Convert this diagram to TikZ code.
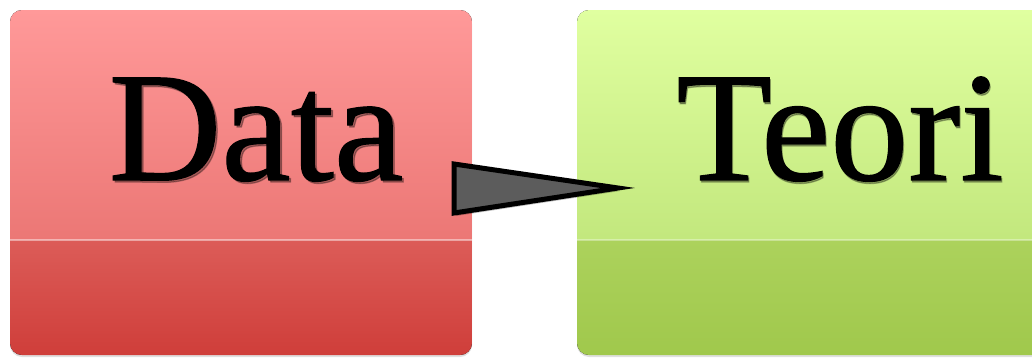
\documentclass[tikz,border=0pt]{standalone}
\usepackage{fontspec}
\setmainfont{Liberation Serif}
\newfontfamily\bigserif[FakeBold=0.8]{Liberation Serif}
\usetikzlibrary{shadows}
\definecolor{redA}{RGB}{255,153,153}
\definecolor{redB}{RGB}{226,102,99}
\definecolor{redC}{RGB}{220,92,88}
\definecolor{redD}{RGB}{207,62,58}
\definecolor{grnA}{RGB}{224,255,160}
\definecolor{grnB}{RGB}{180,220,108}
\definecolor{grnC}{RGB}{172,210,92}
\definecolor{grnD}{RGB}{160,200,76}
\definecolor{arrowgray}{RGB}{92,92,92}
\begin{document}
\begin{tikzpicture}[x=1pt,y=1pt,
  box/.style={rectangle, rounded corners=12pt, inner sep=0pt,
    drop shadow={opacity=0.25, shadow xshift=0pt, shadow yshift=-2pt}},
  redfill/.style={path picture={
    \fill[sharp corners, top color=redA, bottom color=redB] ([yshift=115pt]path picture bounding box.south west) rectangle (path picture bounding box.north east);
    \fill[sharp corners, top color=redC, bottom color=redD] (path picture bounding box.south west) rectangle ([yshift=115pt]path picture bounding box.south east);
    \draw[sharp corners, white, opacity=0.45, line width=1.2pt] ([yshift=115pt]path picture bounding box.south west) -- ([yshift=115pt]path picture bounding box.south east);}},
  grnfill/.style={path picture={
    \fill[sharp corners, top color=grnA, bottom color=grnB] ([yshift=115pt]path picture bounding box.south west) rectangle (path picture bounding box.north east);
    \fill[sharp corners, top color=grnC, bottom color=grnD] (path picture bounding box.south west) rectangle ([yshift=115pt]path picture bounding box.south east);
    \draw[sharp corners, white, opacity=0.35, line width=1.2pt] ([yshift=115pt]path picture bounding box.south west) -- ([yshift=115pt]path picture bounding box.south east);}},
  big/.style={anchor=base, inner sep=0pt, font=\bigserif\fontsize{156}{160}\selectfont},
  shade/.style={big, text=black, opacity=0.3},
  arrowshape/.style={fill=arrowgray, draw=black, line width=5pt, line join=miter, miter limit=20}
]
\useasboundingbox (0,0) rectangle (1032,360);
\clip (0,0) rectangle (1032,360);
\node[box, redfill, minimum width=462pt, minimum height=345pt] (data) at (241,177.5) {};
\node[box, grnfill, minimum width=475pt, minimum height=345pt] (teori) at (814.5,177.5) {};
\node[shade] (datashadow) at (258,178) {Data};
\node[big] (datalabel) at (256,180) {Data};
\node[shade] (teorishadow) at (841,178) {Teori};
\node[big] (teorilabel) at (840,180) {Teori};
\coordinate (atop) at (454,196);
\coordinate (abot) at (454,147);
\coordinate (atip) at (618,172);
\fill[black, opacity=0.25] ([shift={(2,-3)}]atop) -- ([shift={(2,-3)}]atip) -- ([shift={(2,-3)}]abot) -- cycle;
\draw[arrowshape] (atop) -- (atip) -- (abot) -- cycle;
\end{tikzpicture}
\end{document}
